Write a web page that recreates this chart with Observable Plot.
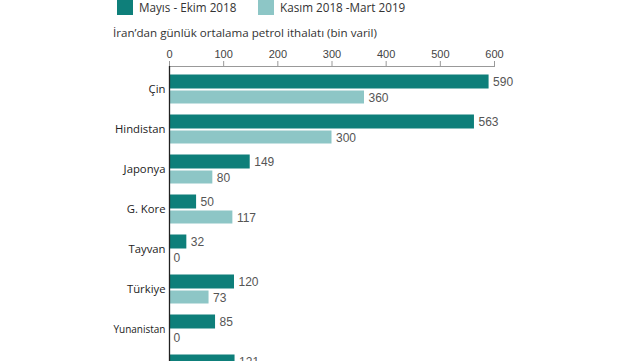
<!DOCTYPE html>
<html><head><meta charset="utf-8">
<script src="https://cdn.jsdelivr.net/npm/d3@7"></script>
<script src="https://cdn.jsdelivr.net/npm/@observablehq/plot@0.6"></script>
<style>
html,body{margin:0;padding:0;background:#fff;overflow:hidden;width:640px;height:361px;}
#wrap{position:relative;width:640px;height:361px;font-family:"Open Sans",sans-serif;}
.leg{position:absolute;top:-1px;display:flex;align-items:center;font-size:11.7px;color:#333;}
.sw{width:16px;height:16px;margin-right:6px;}
#title{position:absolute;left:113px;top:25px;font-size:11.6px;color:#333;white-space:nowrap;}
#chart{position:absolute;left:0;top:0;}
</style></head>
<body><div id="wrap">
<div id="chart"></div>
<div class="leg" style="left:117px"><div class="sw" style="background:#0e7f7a"></div><span id="l1"></span></div>
<div class="leg" style="left:258px"><div class="sw" style="background:#8dc6c6"></div><span id="l2"></span></div>
<div id="title"></div>
</div>
<script>
const countries = ["Çin","Hindistan","Japonya","G. Kore","Tayvan","Türkiye","Yunanistan","İtalya"];
const mayisEkim2018 = [590,563,149,50,32,120,85,121];
const kasimMart2019 = [360,300,80,117,0,73,0,null];
const seriesNames = ["Mayıs - Ekim 2018","Kasım 2018 -Mart 2019"];
const titleText = "İran’dan günlük ortalama petrol ithalatı (bin varil)";
const xTicks = [0,100,200,300,400,500,600];

document.getElementById("l1").textContent = seriesNames[0];
document.getElementById("l2").textContent = seriesNames[1];
document.getElementById("title").textContent = titleText;

const dataA = countries.map((c,i)=>({country:c, value:mayisEkim2018[i]}));
const dataB = countries.map((c,i)=>({country:c, value:kasimMart2019[i]})).filter(d=>d.value!=null);

const chart = Plot.plot({
  width:640, height:361,
  marginTop:66, marginLeft:169, marginRight:146, marginBottom:0,
  style:{fontFamily:"Open Sans, sans-serif", background:"transparent"},
  x:{domain:[0,600], ticks:xTicks},
  y:{domain:countries, range:[68.5,388.5], padding:0},
  marks:[
    Plot.barX(dataA,{x:"value", y:"country", fill:"#0e7f7a", insetTop:5.5, insetBottom:20.5}),
    Plot.barX(dataB,{x:"value", y:"country", fill:"#8dc6c6", insetTop:21.5, insetBottom:5.5}),
    Plot.text(dataA,{x:"value", y:"country", text:d=>String(d.value), dy:-7.5, dx:4, textAnchor:"start", fill:"#555", fontSize:12, fontFamily:"Liberation Sans, Arial, sans-serif"}),
    Plot.text(dataB,{x:"value", y:"country", text:d=>String(d.value), dy:8.5, dx:4, textAnchor:"start", fill:"#555", fontSize:12, fontFamily:"Liberation Sans, Arial, sans-serif"}),
    Plot.axisX({anchor:"top", ticks:xTicks, tickSize:6, tickPadding:3, fontSize:11, label:null, color:"#444", fontFamily:"Liberation Sans, Arial, sans-serif", stroke:"#999"}),
    Plot.axisY({anchor:"left", tickSize:0, tickPadding:4, fontSize:d => d === "Yunanistan" ? 10 : 11.3, label:null, color:"#222"}),
    Plot.frame({anchor:"top", stroke:"#999"}),
    Plot.ruleX([0],{stroke:"#222", strokeWidth:1.3})
  ]
});
document.getElementById("chart").appendChild(chart);
</script>
</body></html>
